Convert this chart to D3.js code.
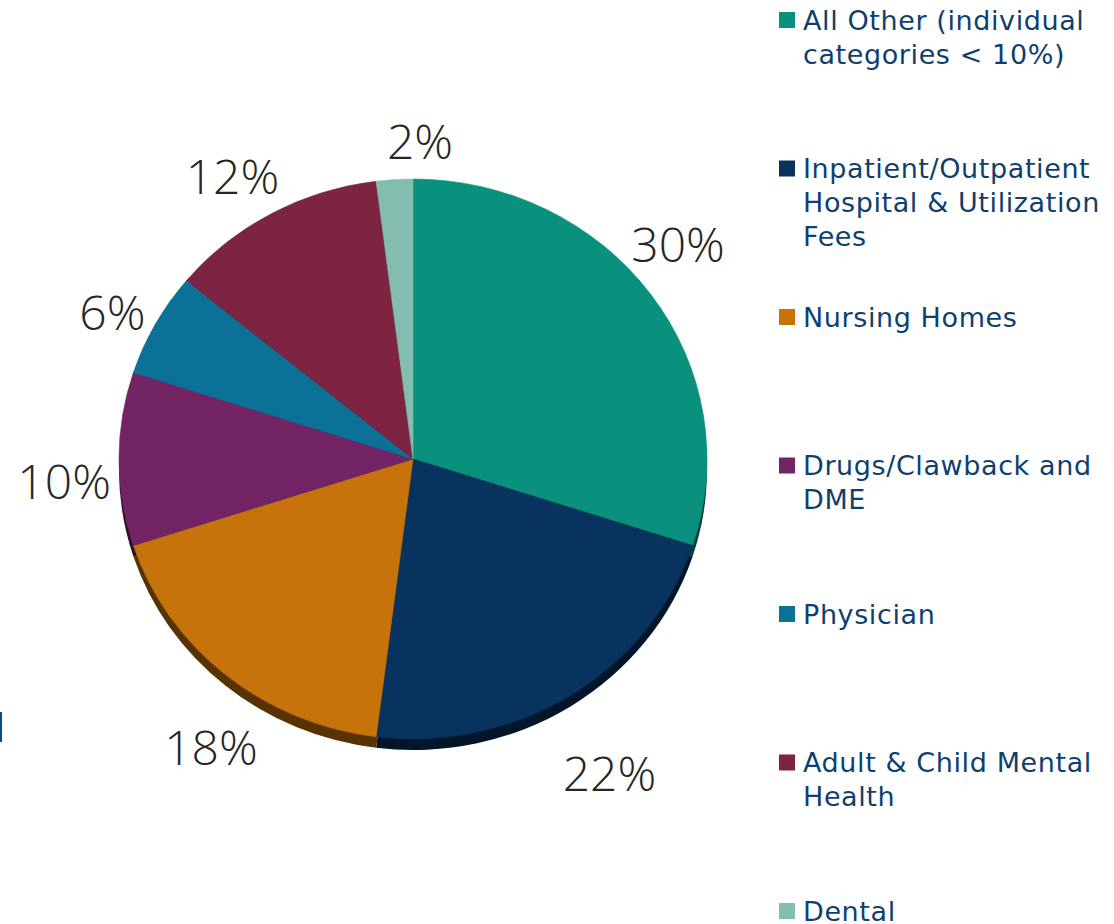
<!DOCTYPE html>
<html>
<head>
<meta charset="utf-8">
<script src="https://cdn.jsdelivr.net/npm/d3@7"></script>
<style>
  body { margin: 0; background: #fff; }
  svg { display: block; }
</style>
</head>
<body>
<svg id="chart" width="1114" height="924"></svg>
<script>
// DATA
const categories = [
  "All Other (individual categories < 10%)",
  "Inpatient/Outpatient Hospital & Utilization Fees",
  "Nursing Homes",
  "Drugs/Clawback and DME",
  "Physician",
  "Adult & Child Mental Health",
  "Dental"
];
const values = [30, 22, 18, 10, 6, 12, 2];
const colors = ["#0a917d", "#07335e", "#c5730a", "#722465", "#0c7196", "#7d2442", "#82bdb0"];
const legendLines = [
  ["All Other (individual", "categories < 10%)"],
  ["Inpatient/Outpatient", "Hospital & Utilization", "Fees"],
  ["Nursing Homes"],
  ["Drugs/Clawback and", "DME"],
  ["Physician"],
  ["Adult & Child Mental", "Health"],
  ["Dental"]
];

// layout nudges for the percent labels (dx, dy from the label arc)
const labelNudge = [[-18, -20], [9, 32], [21, 31], [1, 21], [6, 13], [-12, 8], [29, 14]];

const svg = d3.select("#chart");

// PIE GEOMETRY
const cx = 413, cy = 459;
const rx = 294, ry = 280;
const depth = 11;

const data = categories.map((c, i) => ({ name: c, value: values[i], color: colors[i] }));

const pie = d3.pie().sort(null).value(d => d.value);
const arcs = pie(data);

const arc = d3.arc().innerRadius(0).outerRadius(ry);

const pieG = svg.append("g")
  .attr("transform", `translate(${cx},${cy}) scale(${rx / ry},1)`);

// side / shadow of the 3D disc
pieG.selectAll("path.side")
  .data(arcs)
  .join("path")
  .attr("class", "side")
  .attr("transform", `translate(0,${depth})`)
  .attr("d", arc)
  .attr("fill", d => d3.color(d.data.color).darker(2.3));

// top face
pieG.selectAll("path.slice")
  .data(arcs)
  .join("path")
  .attr("class", "slice")
  .attr("d", arc)
  .attr("fill", d => d.data.color)
  .attr("stroke", d => d.data.color)
  .attr("stroke-width", 0.6);

// PERCENT LABELS
const labelArc = d3.arc().innerRadius(ry * 1.19).outerRadius(ry * 1.19);

svg.selectAll("text.pct")
  .data(arcs)
  .join("text")
  .attr("class", "pct")
  .attr("x", (d, i) => cx + labelArc.centroid(d)[0] * rx / ry + labelNudge[i][0])
  .attr("y", (d, i) => cy + labelArc.centroid(d)[1] + labelNudge[i][1])
  .attr("text-anchor", "middle")
  .attr("dominant-baseline", "central")
  .attr("font-family", "'Open Sans', 'Noto Sans', sans-serif")
  .attr("font-weight", 300)
  .attr("font-size", 48)
  .attr("fill", "#262626")
  .text(d => d.data.value + "%");

// LEGEND
const legendX = 779, legendY0 = 20, legendStep = 148.5, lineH = 34;

const legend = svg.selectAll("g.legend")
  .data(data)
  .join("g")
  .attr("class", "legend")
  .attr("transform", (d, i) => `translate(${legendX},${legendY0 + i * legendStep})`);

legend.append("rect")
  .attr("x", 0)
  .attr("y", -8)
  .attr("width", 16)
  .attr("height", 16)
  .attr("fill", d => d.color);

legend.each(function (d, i) {
  const t = d3.select(this).append("text")
    .attr("font-family", "'DejaVu Sans', Verdana, sans-serif")
    .attr("font-size", 27)
    .attr("letter-spacing", 0.6)
    .attr("fill", "#0f3f6e");
  legendLines[i].forEach((ln, j) => {
    t.append("tspan")
      .attr("x", 24)
      .attr("y", j * lineH)
      .attr("dominant-baseline", "central")
      .text(ln);
  });
});

// small stray mark at left edge
svg.append("line")
  .attr("x1", 1).attr("x2", 1)
  .attr("y1", 712).attr("y2", 742)
  .attr("stroke", "#0e4a80")
  .attr("stroke-width", 2);
</script>
</body>
</html>
